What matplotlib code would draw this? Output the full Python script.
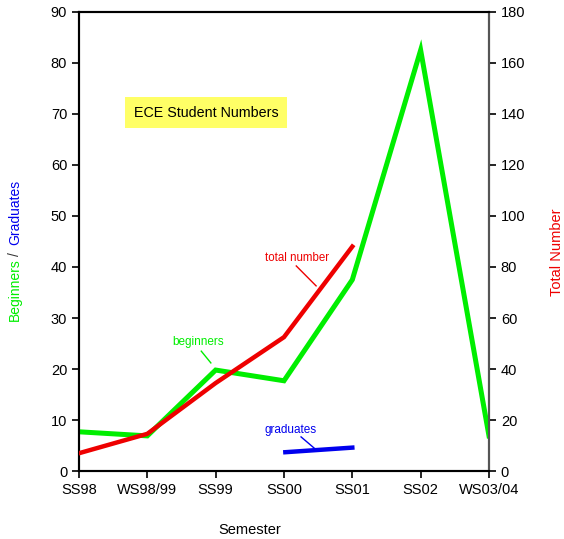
import matplotlib
matplotlib.use("Agg")
import matplotlib.pyplot as plt

semesters = ["SS98", "WS98/99", "SS99", "SS00", "SS01", "SS02", "WS03/04"]
beginners = [7.7, 6.9, 19.8, 17.7, 37.5, 82.5, 6.9]
total_number = [7.0, 14.6, 34.5, 52.5, 88.0]
graduates = [3.7, 4.6]

plt.rcParams["font.family"] = ["Liberation Sans", "DejaVu Sans"]

fig = plt.figure(figsize=(5.64, 5.39), dpi=100)
ax = fig.add_axes([0.140, 0.126, 0.727, 0.852])
ax2 = ax.twinx()

x = list(range(len(semesters)))
ax.plot(x, beginners, color="#00ee00", linewidth=3.6, solid_joinstyle="miter", zorder=3)
ax.plot([3.02, 4], graduates, color="#0000ee", linewidth=3.2, zorder=3)
ax2.plot(x[:len(total_number)], total_number, color="#ee0000", linewidth=3.2,
         solid_joinstyle="miter", zorder=3)

ax.set_xlim(0, 6)
ax.set_ylim(0, 90)
ax2.set_ylim(0, 180)
ax.set_xticks(x)
ax.set_xticklabels(semesters)
ax.set_yticks(range(0, 91, 10))
ax2.set_yticks(range(0, 181, 20))
ax.tick_params(axis="both", labelsize=10.5, length=5, width=1.2, direction="out")
ax2.tick_params(axis="y", labelsize=10.5, length=5, width=1.2, direction="out")
for a in (ax, ax2):
    for s in a.spines.values():
        s.set_linewidth(1.5)
ax2.spines["right"].set_color("#555555")

# annotations
ax.text(1.86, 70.2, "ECE Student Numbers", fontsize=10.3, ha="center", va="center",
        bbox=dict(boxstyle="square,pad=0.6", facecolor="#ffff66", edgecolor="none"))
ax.text(1.74, 25.3, "beginners", color="#00ee00", fontsize=8.5, ha="center", va="center")
ax.plot([1.79, 1.93], [23.5, 21.2], color="#00ee00", linewidth=1)
ax.text(3.19, 41.8, "total number", color="#ee0000", fontsize=8.3, ha="center", va="center")
ax.plot([3.18, 3.47], [40.2, 36.3], color="#ee0000", linewidth=1)
ax.text(3.1, 8.0, "graduates", color="#0000ee", fontsize=8.5, ha="center", va="center")
ax.plot([3.25, 3.46], [6.7, 4.3], color="#0000ee", linewidth=1)

# axis labels
fig.text(0.443, 0.017, "Semester", fontsize=10.5, ha="center", va="center")
fig.text(0.027, 1 - 290 / 539, "Beginners", color="#00ee00", fontsize=10,
         rotation=90, ha="center", va="center")
fig.text(0.027, 1 - 254 / 539, "/", color="#333333", fontsize=10,
         rotation=90, ha="center", va="center")
fig.text(0.027, 1 - 212 / 539, "Graduates", color="#0000ee", fontsize=10,
         rotation=90, ha="center", va="center")
fig.text(0.988, 1 - 252 / 539, "Total Number", color="#ee0000", fontsize=10.5,
         rotation=90, ha="center", va="center")

fig.savefig("out.png", dpi=100, facecolor="white")
